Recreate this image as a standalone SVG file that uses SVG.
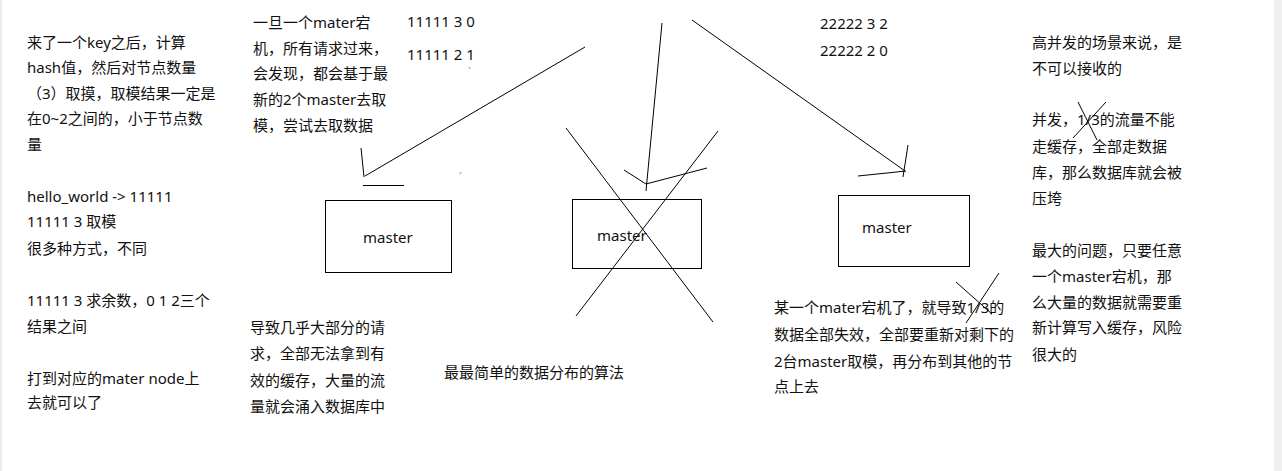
<svg xmlns="http://www.w3.org/2000/svg" width="1282" height="471" viewBox="0 0 1282 471">
<style>
text{font-family:"Noto Sans","Noto Sans CJK SC",sans-serif;font-size:15px;fill:#111}
.box{fill:#fff;stroke:#000;stroke-width:1}
.ln{stroke:#000;stroke-width:1;fill:none}
</style>
<rect x="0" y="0" width="1282" height="471" fill="#fff"/>
<rect x="0" y="0" width="2" height="471" fill="#ececec"/>
<rect x="1274" y="0" width="8" height="471" fill="#efefef"/>

<g id="notes-left">
<text x="27" y="48">来了一个key之后，计算</text>
<text x="27" y="73">hash值，然后对节点数量</text>
<text x="27" y="99">（3）取摸，取模结果一定是</text>
<text x="27" y="124">在0~2之间的，小于节点数</text>
<text x="27" y="150">量</text>
<text x="27" y="202">hello_world -&gt; 11111</text>
<text x="27" y="227">11111 3 取模</text>
<text x="27" y="254">很多种方式，不同</text>
<text x="27" y="306">11111 3 求余数，0 1 2三个</text>
<text x="27" y="332">结果之间</text>
<text x="27" y="384">打到对应的mater node上</text>
<text x="27" y="408">去就可以了</text>
</g>

<g id="notes-mid">
<text x="253" y="28">一旦一个mater宕</text>
<text x="253" y="54">机，所有请求过来，</text>
<text x="253" y="79">会发现，都会基于最</text>
<text x="253" y="105">新的2个master去取</text>
<text x="253" y="131">模，尝试去取数据</text>
<text x="407" y="27">11111 3 0</text>
<text x="407" y="60">11111 2 1</text>
<text x="820" y="29">22222 3 2</text>
<text x="820" y="56">22222 2 0</text>
<text x="250" y="333">导致几乎大部分的请</text>
<text x="250" y="359">求，全部无法拿到有</text>
<text x="250" y="386">效的缓存，大量的流</text>
<text x="250" y="412">量就会涌入数据库中</text>
<text x="444" y="378">最最简单的数据分布的算法</text>
<text x="774" y="313">某一个mater宕机了，就导致1/3的</text>
<text x="774" y="340">数据全部失效，全部要重新对剩下的</text>
<text x="774" y="367">2台master取模，再分布到其他的节</text>
<text x="774" y="392">点上去</text>
</g>

<g id="notes-right">
<text x="1032" y="48">高并发的场景来说，是</text>
<text x="1032" y="74">不可以接收的</text>
<text x="1032" y="125">并发，1/3的流量不能</text>
<text x="1032" y="152">走缓存，全部走数据</text>
<text x="1032" y="178">库，那么数据库就会被</text>
<text x="1032" y="204">压垮</text>
<text x="1032" y="256">最大的问题，只要任意</text>
<text x="1032" y="282">一个master宕机，那</text>
<text x="1032" y="308">么大量的数据就需要重</text>
<text x="1032" y="333">新计算写入缓存，风险</text>
<text x="1032" y="360">很大的</text>
</g>

<g id="master1">
<rect class="box" x="325.5" y="200.5" width="126" height="72"/>
<text x="363" y="243">master</text>
</g>
<g id="master2">
<rect class="box" x="572.5" y="199.5" width="129" height="69"/>
<text x="597" y="241">master</text>
</g>
<g id="master3">
<rect class="box" x="838.5" y="195.5" width="131" height="71"/>
<text x="862" y="233">master</text>
</g>

<g id="connectors">
<path class="ln" d="M585,47 L365,176 M361,148 L364,177 M363,185.5 L404,185.5"/>
<path class="ln" d="M469,67.5 l1,1 M460,173.5 l1,-1"/>
<path class="ln" d="M662,23 L646,191 M624,170 L646,184 L707,168"/>
<path class="ln" d="M692,20 L905,171 M908,145 L903,177 M858,176 L906,171"/>
<path class="ln" d="M566,128 L713,322 M718,131 L576,316"/>
<path class="ln" d="M956,282 L992,314 M999,273 L966,323"/>
<path class="ln" d="M1078,102 L1097,140 M1106,102 L1073,138"/>
</g>
</svg>
